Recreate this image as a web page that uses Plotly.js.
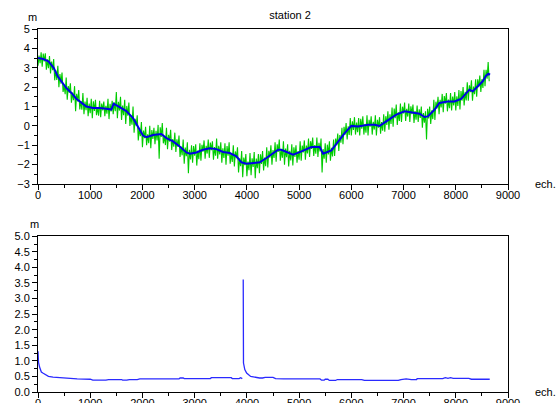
<!DOCTYPE html>
<html>
<head>
<meta charset="utf-8">
<script src="https://cdn.plot.ly/plotly-3.0.1.min.js"></script>
<style>
  html, body { margin: 0; padding: 0; background: #fff; }
  #chart { width: 560px; height: 403px; }
</style>
</head>
<body>
<div id="chart"></div>
<script>
// Raw water level (m), one value every 20 samples starting at sample 0
const rawStep = 20;
const rawLevel = [
  3.1, 3.63, 3.23, 3.8,   3.05, 3.73, 3.33, 3.75,   2.9, 3.43, 2.98, 3.6,   2.7, 3.32, 2.87, 3.45,
  2.35, 2.87, 2.37, 3.1,  2.0, 2.68, 2.18, 2.75,    1.75, 2.09, 1.64, 2.5,  1.35, 2.06, 1.71, 2.2,
  1.2, 1.72, 1.32, 2.05,  0.75, 1.66, 1.26, 1.85,   0.85, 1.28, 0.83, 1.7,  0.6, 1.26, 0.81, 1.45,
  0.5, 1.15, 0.65, 1.4,   0.4, 1.27, 0.77, 1.35,    0.55, 0.97, 0.52, 1.3,  0.45, 1.15, 0.8, 1.25,
  0.5, 1.03, 0.63, 1.4,   0.35, 1.14, 0.74, 1.3,    0.6, 1.21, 0.76, 1.75,  0.4, 1.24, 0.79, 1.5,
  0.3, 1.05, 0.55, 1.35,  0.1, 1.03, 0.53, 1.2,     0.0, 0.51, 0.06, 1.0,   -0.35, 0.36, 0.01, 0.55,
  -0.75, -0.13, -0.53, 0.2,   -1.1, -0.24, -0.64, -0.05,  -1.0, -0.44, -0.89, 0.0,   -1.15, -0.22, -0.67, -0.1,
  -0.95, -0.25, -0.75, 0.05,  -1.7, -0.07, -0.57, 0.15,   -0.9, -0.54, -0.99, -0.1,  -1.2, -0.46, -0.81, -0.2,
  -1.25, -0.68, -1.08, -0.35, -1.35, -0.69, -1.09, -0.5,  -1.6, -1.07, -1.52, -0.7,  -1.95, -1.12, -1.57, -0.85,
  -2.45, -1.23, -1.73, -1.0,  -1.9, -1.04, -1.54, -0.95,  -2.05, -1.27, -1.72, -0.9, -1.8, -0.98, -1.33, -0.75,
  -1.7, -1.03, -1.43, -0.7,   -1.65, -0.86, -1.26, -0.8,  -1.75, -1.09, -1.54, -0.65, -1.7, -1.03, -1.48, -0.85,
  -1.9, -1.16, -1.66, -0.9,   -2.0, -1.04, -1.54, -0.85,  -1.95, -1.41, -1.86, -1.0, -2.1, -1.32, -1.67, -1.1,
  -2.4, -1.68, -2.08, -1.3,   -2.65, -1.63, -2.03, -1.45, -2.6, -1.84, -2.29, -1.4, -2.55, -1.67, -2.12, -1.35,
  -2.7, -1.69, -2.19, -1.45,  -2.45, -1.47, -1.97, -1.3,  -2.3, -1.63, -2.08, -1.1, -2.15, -1.29, -1.64, -1.0,
  -2.0, -1.25, -1.65, -0.85,  -1.85, -0.95, -1.35, -0.7,  -1.8, -1.2, -1.65, -0.8,  -2.0, -1.17, -1.62, -0.95,
  -2.1, -1.29, -1.79, -0.95,  -2.05, -1.1, -1.6, -1.0,    -1.9, -1.3, -1.75, -0.8,  -1.8, -1.02, -1.37, -0.75,
  -1.75, -1.02, -1.42, -0.65, -1.6, -0.79, -1.19, -0.6,   -1.55, -0.99, -1.44, -0.6, -1.6, -0.87, -1.32, -0.65,
  -2.4, -1.2, -1.7, -0.9,     -1.9, -0.97, -1.47, -0.8,   -1.8, -1.13, -1.58, -0.7, -1.55, -0.65, -1.0, -0.4,
  -1.3, -0.47, -0.87, -0.1,   -0.95, -0.05, -0.45, 0.15,  -0.7, -0.02, -0.47, 0.4,  -0.5, 0.24, -0.21, 0.45,
  -0.45, 0.17, -0.33, 0.4,    -0.5, 0.36, -0.14, 0.5,     -0.45, 0.1, -0.35, 0.55,  -0.5, 0.31, -0.04, 0.5,
  -0.45, 0.21, -0.19, 0.55,   -0.5, 0.31, -0.09, 0.45,    -0.4, 0.2, -0.25, 0.6,    -0.3, 0.5, 0.05, 0.75,
  -0.2, 0.6, 0.1, 0.95,       -0.05, 0.9, 0.4, 1.1,       0.05, 0.7, 0.25, 1.15,    0.2, 0.99, 0.64, 1.2,
  0.25, 0.88, 0.48, 1.15,     0.2, 1.01, 0.61, 1.1,       0.15, 0.77, 0.32, 1.05,   0.2, 0.86, 0.41, 1.0,
  -0.1, 0.66, 0.16, 0.75,     -0.7, 0.88, 0.38, 1.0,      0.1, 0.8, 0.35, 1.35,     0.3, 1.25, 0.9, 1.5,
  0.6, 1.35, 0.95, 1.65,      0.7, 1.54, 1.14, 1.7,       0.75, 1.36, 0.91, 1.7,    0.8, 1.51, 1.06, 1.75,
  0.8, 1.53, 1.03, 1.85,      0.85, 1.8, 1.3, 2.0,        1.05, 1.76, 1.31, 2.25,   1.3, 2.09, 1.74, 2.35,
  1.3, 2.03, 1.63, 2.4,       1.5, 2.4, 2.0, 2.6,         1.75, 2.41, 1.96, 2.9,    2.05, 2.89, 2.44, 3.3,
  2.3
];

// Filtered water level (m)
const smoothX = [
  0, 100, 200, 300, 380, 450, 543, 640, 734, 830,
  926, 1054, 1181, 1309, 1405, 1450, 1565, 1692, 1820, 1916,
  2011, 2075, 2203, 2363, 2459, 2586, 2714, 2842, 2906, 3033,
  3161, 3289, 3416, 3544, 3672, 3800, 3895, 3991, 4119, 4246,
  4374, 4502, 4598, 4660, 4885, 5045, 5236, 5395, 5459, 5618,
  5745, 5873, 6000, 6127, 6318, 6446, 6541, 6701, 6860, 7019,
  7178, 7306, 7401, 7465, 7592, 7688, 7847, 7975, 8102, 8197,
  8261, 8325, 8420, 8516, 8580, 8624, 8656
];
const smoothLevel = [
  3.5, 3.45, 3.33, 3.0, 2.55, 2.3, 1.95, 1.7, 1.4, 1.2,
  1.0, 0.92, 0.92, 0.88, 0.84, 1.15, 0.98, 0.76, 0.4, -0.07,
  -0.5, -0.58, -0.47, -0.42, -0.63, -0.8, -1.06, -1.37, -1.44, -1.37,
  -1.23, -1.15, -1.2, -1.35, -1.4, -1.57, -1.88, -1.95, -1.92, -1.88,
  -1.66, -1.44, -1.23, -1.23, -1.49, -1.32, -1.09, -1.09, -1.44, -1.27,
  -0.8, -0.37, 0.0, -0.03, 0.06, 0.06, 0.0, 0.28, 0.58, 0.75,
  0.7, 0.63, 0.46, 0.49, 0.83, 1.18, 1.26, 1.26, 1.39, 1.7,
  1.87, 1.78, 2.04, 2.3, 2.59, 2.69, 2.64
];

// Error estimate (m); null marks the restart of the filter
const errX = [
  0, 10, 30, 64, 100, 160, 200, 288, 500, 700,
  750, 1000, 1050, 1300, 1350, 1600, 1620, 1700, 1750, 1900,
  1950, 2700, 2720, 2780, 2800, 3300, 3320, 3700, 3720, 3850,
  3880, 3912, 3920,
  3930, 3935, 3960, 3995, 4072, 4150, 4242, 4300, 4350, 4500,
  4550, 4700, 5400, 5430, 5480, 5500, 5550, 5580, 5700, 5730,
  6200, 6250, 6900, 6950, 7050, 7150, 7250, 7260, 7750, 7800,
  7850, 7900, 7950, 8250, 8300, 8650
];
const errLevel = [
  1.31, 0.95, 0.8, 0.64, 0.6, 0.54, 0.5, 0.48, 0.45, 0.44,
  0.42, 0.41, 0.38, 0.38, 0.4, 0.4, 0.38, 0.38, 0.4, 0.4,
  0.42, 0.42, 0.45, 0.45, 0.43, 0.43, 0.46, 0.46, 0.43, 0.43,
  0.46, 0.43, null,
  3.61, 0.93, 0.72, 0.61, 0.5, 0.47, 0.45, 0.45, 0.47, 0.47,
  0.43, 0.42, 0.42, 0.38, 0.38, 0.41, 0.41, 0.37, 0.37, 0.4,
  0.4, 0.37, 0.37, 0.4, 0.42, 0.4, 0.4, 0.43, 0.43, 0.46,
  0.44, 0.46, 0.44, 0.44, 0.41, 0.41
];

const rawX = rawLevel.map((_, i) => i * rawStep);

const font = { family: 'Liberation Sans, Arial, sans-serif', size: 11, color: '#000' };

const baseX = {
  range: [0, 9000], dtick: 1000, tick0: 0,
  ticks: 'outside', ticklen: 5, tickcolor: '#000', tickwidth: 1,
  ticklabelstandoff: -4,
  minor: { dtick: 500, ticklen: 3, ticks: 'outside', tickcolor: '#000' },
  showline: true, linecolor: '#000', linewidth: 1, mirror: true,
  showgrid: false, zeroline: false, tickfont: font
};
const baseY = {
  ticks: 'outside', ticklen: 5, tickcolor: '#000', tickwidth: 1,
  showline: true, linecolor: '#000', linewidth: 1, mirror: true,
  showgrid: false, zeroline: false, tickfont: font
};

const traces = [
  { x: rawX, y: rawLevel, xaxis: 'x', yaxis: 'y', type: 'scatter', mode: 'lines',
    line: { color: '#00cc00', width: 1.1 }, hoverinfo: 'skip' },
  { x: smoothX, y: smoothLevel, xaxis: 'x', yaxis: 'y', type: 'scatter', mode: 'lines',
    line: { color: '#0000e6', width: 2 } },
  { x: errX, y: errLevel, xaxis: 'x2', yaxis: 'y2', type: 'scatter', mode: 'lines',
    line: { color: '#2a2aff', width: 1.3 }, connectgaps: false }
];

const layout = {
  width: 560, height: 403,
  margin: { l: 38, r: 52, t: 29, b: 11, pad: 0 },
  paper_bgcolor: '#fff', plot_bgcolor: '#fff',
  showlegend: false,
  font: font,
  title: { text: 'station 2', font: { family: font.family, size: 11, color: '#000' },
           x: 0.518, xanchor: 'center', y: 0.962, yanchor: 'middle' },
  xaxis: Object.assign({}, baseX, { anchor: 'y', domain: [0, 1] }),
  yaxis: Object.assign({}, baseY, {
    anchor: 'x', domain: [0.573, 1], range: [-3, 5], dtick: 1, tick0: 0,
    minor: { dtick: 0.5, ticklen: 3, ticks: 'outside', tickcolor: '#000' }
  }),
  xaxis2: Object.assign({}, baseX, { anchor: 'y2', domain: [0, 1] }),
  yaxis2: Object.assign({}, baseY, {
    anchor: 'x2', domain: [0, 0.429], range: [0, 5], dtick: 0.5, tick0: 0,
    tickformat: '.1f',
    minor: { dtick: 0.25, ticklen: 3, ticks: 'outside', tickcolor: '#000' }
  }),
  annotations: [
    { text: 'm', xref: 'paper', yref: 'paper', x: -0.011, y: 1.034, showarrow: false,
      xanchor: 'center', yanchor: 'middle', font: font },
    { text: 'ech.', xref: 'paper', yref: 'paper', x: 1.053, y: 0.573, showarrow: false,
      xanchor: 'left', yanchor: 'middle', font: font },
    { text: 'm', xref: 'paper', yref: 'paper', x: -0.007, y: 0.463, showarrow: false,
      xanchor: 'center', yanchor: 'middle', font: font },
    { text: 'ech.', xref: 'paper', yref: 'paper', x: 1.053, y: 0.0, showarrow: false,
      xanchor: 'left', yanchor: 'middle', font: font }
  ]
};

Plotly.newPlot('chart', traces, layout, { displayModeBar: false, staticPlot: true });
</script>
</body>
</html>
